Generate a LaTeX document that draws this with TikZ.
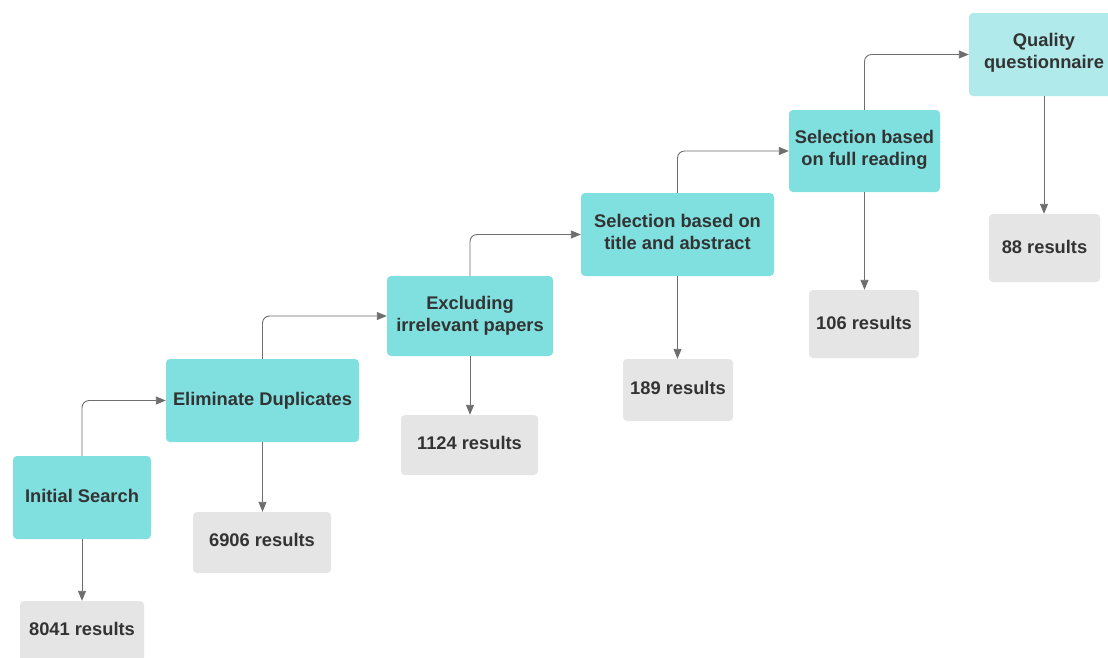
\documentclass[tikz,border=0pt]{standalone}
\usepackage{fontspec}
\setmainfont{Liberation Sans}
\usetikzlibrary{arrows.meta}
\definecolor{teal1}{HTML}{80E0E0}
\definecolor{teal2}{HTML}{B0EAEA}
\definecolor{grayb}{HTML}{E5E5E5}
\definecolor{txt}{HTML}{333333}
\definecolor{linec}{HTML}{6E6E6E}
\tikzset{
  base/.style={rounded corners=4pt, inner sep=0pt, align=center, text=txt,
    font=\fontsize{18.3}{22.5}\selectfont\bfseries},
  stepbox/.style={base, fill=teal1},
  qbox/.style={base, fill=teal2},
  resbox/.style={base, fill=grayb, text depth=5pt},
  conn/.style={draw=linec, line width=0.9pt, rounded corners=7pt,
    -{Triangle[length=10pt,width=8pt]}},
}
\begin{document}
\begin{tikzpicture}[x=1pt,y=-1pt]
\useasboundingbox (0,0) rectangle (1108,657);
\clip (0,0) rectangle (1108,657);
\fill[white] (0,0) rectangle (1108,657);

\node[stepbox, text depth=4pt, minimum width=138pt, minimum height=83pt] (is) at (82,497.5) {Initial Search};
\node[stepbox, minimum width=193pt, minimum height=83pt] (ed) at (262.5,400.5) {Eliminate Duplicates};
\node[stepbox, minimum width=166pt, minimum height=80pt] (ex) at (470,316) {Excluding\\irrelevant papers};
\node[stepbox, text depth=5pt, minimum width=193pt, minimum height=83pt] (st) at (677.5,234.5) {Selection based on\\title and abstract};
\node[stepbox, text depth=6pt, minimum width=151pt, minimum height=82pt] (sf) at (864.5,151) {Selection based\\on full reading};
\node[qbox, text depth=7pt, minimum width=150pt, minimum height=83pt] (qq) at (1044,54.5) {Quality\\questionnaire};

\node[resbox, text depth=7pt, minimum width=124pt, minimum height=62pt] (r1) at (82,632) {8041 results};
\node[resbox, text depth=6pt, minimum width=138pt, minimum height=61pt] (r2) at (262,542.5) {6906 results};
\node[resbox, text depth=4pt, minimum width=137pt, minimum height=60pt] (r3) at (469.5,445) {1124 results};
\node[resbox, text depth=4pt, minimum width=110pt, minimum height=62pt] (r4) at (678,390) {189 results};
\node[resbox, text depth=2pt, minimum width=110pt, minimum height=68pt] (r5) at (864,324) {106 results};
\node[resbox, text depth=2pt, minimum width=111pt, minimum height=68pt] (r6) at (1044.5,248) {88 results};

\draw[conn] (is.north) |- (ed.west);
\draw[conn] (ed.north) |- (ex.west);
\draw[conn] (ex.north) |- (st.west);
\draw[conn] (st.north) |- (sf.west);
\draw[conn] (sf.north) |- (qq.west);

\draw[conn] (is.south) -- (is.south |- r1.north);
\draw[conn] (ed.south) -- (ed.south |- r2.north);
\draw[conn] (ex.south) -- (ex.south |- r3.north);
\draw[conn] (st.south) -- (st.south |- r4.north);
\draw[conn] (sf.south) -- (sf.south |- r5.north);
\draw[conn] (qq.south) -- (qq.south |- r6.north);
\end{tikzpicture}
\end{document}
